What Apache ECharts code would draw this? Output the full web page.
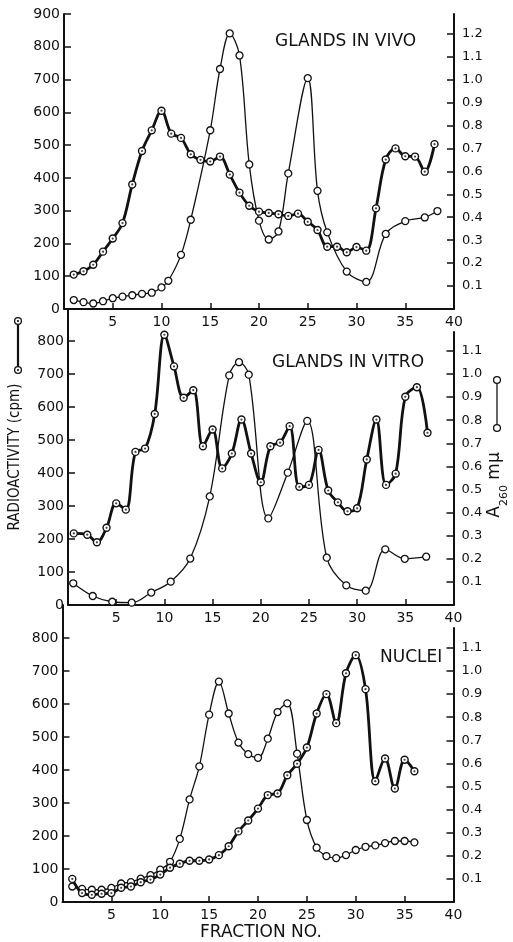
<!DOCTYPE html>
<html><head><meta charset="utf-8">
<script src="https://cdn.jsdelivr.net/npm/echarts@6/dist/echarts.min.js"></script>
<style>html,body{margin:0;padding:0;background:#fff}#c{width:513px;height:942px}</style>
</head><body><div id="c"></div>
<script>
// ---- data (fraction numbers, radioactivity cpm, A260) ----
const xTickInterval = 5;
const vivoRadFrac = [1,2,3,4,5,6,7,8,9,10,11,12,13,14,15,16,17,18,19,20,21,22,23,24,25,26,27,28,29,30,31,32,33,34,35,36,37,38];
const vivoRad = [105,115,135,175,215,262,380,482,545,605,535,522,472,455,450,465,410,355,315,297,293,289,284,291,266,241,190,190,173,189,178,307,456,490,466,465,419,503];
const vivoA260Frac = [1,2,3,4,5,6,7,8,9,10,10.7,12,13,15,16,17,18,19,20,21,22,23,25,26,27,29,31,33,35,37,38.3];
const vivoA260 = [0.039,0.030,0.024,0.034,0.047,0.054,0.060,0.066,0.071,0.094,0.123,0.236,0.389,0.779,1.046,1.201,1.105,0.630,0.385,0.303,0.338,0.591,1.006,0.515,0.334,0.163,0.118,0.327,0.383,0.399,0.427];

const vitroRadFrac = [0.6,2,3,4,5,6,7,8,9,10,11,12,13,14,15,16,17,18,19,20,21,22,23,24,25,26,27,28,29,30,31,32,33,34,35,36.2,37.3];
const vitroRad = [217,213,190,234,308,289,464,474,579,819,723,628,651,481,532,414,459,562,459,372,481,492,542,358,364,470,347,311,284,293,441,562,364,398,631,660,522];
const vitroA260Frac = [1,3,5,7,9,11,13,15,17,18,19,21,23,25,27,29,31,33,35,37.2];
const vitroA260 = [0.094,0.039,0.014,0.010,0.054,0.101,0.201,0.470,0.994,1.051,0.997,0.375,0.573,0.797,0.205,0.085,0.062,0.241,0.200,0.209];

const nucRadFrac = [1,2,3,4,5,6,7,8,9,10,11,12,13,14,15,16,17,18,19,20,21,22,23,24,25,26,27,28,29,30,31,32,33,34,35,36];
const nucRad = [70,27,22,25,27,43,47,60,68,83,104,116,125,125,129,142,169,214,247,283,324,329,384,419,468,571,630,542,693,748,645,366,435,344,431,396];
const nucA260Frac = [1,2,3,4,5,6,7,8,9,10,11,12,13,14,15,16,17,18,19,20,21,22,23,24,25,26,27,28,29,30,31,32,33,34,35,36];
const nucA260 = [0.067,0.057,0.053,0.053,0.061,0.080,0.086,0.101,0.116,0.140,0.174,0.273,0.444,0.587,0.811,0.954,0.816,0.690,0.640,0.624,0.707,0.822,0.860,0.642,0.355,0.235,0.199,0.190,0.203,0.225,0.239,0.245,0.255,0.264,0.264,0.258];

const panelTitles = ['GLANDS IN VIVO','GLANDS IN VITRO','NUCLEI'];

function pairs(xs, ys){ return xs.map((x,i)=>[x, ys[i]]); }

const INK = '#111';
const FONT = '"DejaVu Sans", sans-serif';
const SYM = 7;

const panels = [
  {gl:{left:64,  width:390, top:14,  height:295}, gr:{left:64,  width:390, top:14,  height:295}, lmax:900, rmax:1.2857, showMax:true,
   rad:pairs(vivoRadFrac, vivoRad), a:pairs(vivoA260Frac, vivoA260)},
  {gl:{left:63.5,width:390, top:309, height:296}, gr:{left:63.5,width:390, top:332, height:273}, lmax:897, rmax:1.1818, showMax:false,
   rad:pairs(vitroRadFrac, vitroRad), a:pairs(vitroA260Frac, vitroA260)},
  {gl:{left:62.5,width:391, top:605, height:297}, gr:{left:62.5,width:391, top:628, height:274}, lmax:900, rmax:1.186, showMax:false,
   rad:pairs(nucRadFrac, nucRad), a:pairs(nucA260Frac, nucA260)}
];

const grid=[], xAxis=[], yAxis=[], series=[];
panels.forEach((p, i) => {
  const gL = grid.length; grid.push(p.gl);
  const gR = grid.length; grid.push(p.gr);
  const xL = xAxis.length;
  xAxis.push({gridIndex:gL, type:'value', min:0, max:40, interval:xTickInterval,
    axisLine:{lineStyle:{color:INK, width:2}},
    axisTick:{inside:true, length:6, lineStyle:{color:INK, width:1.5}},
    axisLabel:{showMinLabel:false, color:INK, fontSize:14, fontFamily:FONT, margin:6},
    splitLine:{show:false}});
  const xR = xAxis.length;
  xAxis.push({gridIndex:gR, type:'value', min:0, max:40, interval:xTickInterval, show:false});
  const yL = yAxis.length;
  const yOpt = {gridIndex:gL, type:'value', position:'left', min:0, max:p.lmax, interval:100,
    axisLine:{show:true, onZero:false, lineStyle:{color:INK, width:2}},
    axisTick:{show:true, inside:true, length:7, lineStyle:{color:INK, width:1.5}},
    axisLabel:{color:INK, fontSize:14, fontFamily:FONT, margin:4, showMaxLabel:p.showMax},
    splitLine:{show:false}};
  if (i === 1) {
    yOpt.name = 'RADIOACTIVITY (cpm)';
    yOpt.nameLocation = 'middle';
    yOpt.nameRotate = 90;
    yOpt.nameGap = 45;
    yOpt.nameTextStyle = {color:INK, fontSize:15, fontFamily:'"DejaVu Sans Condensed", "DejaVu Sans", sans-serif'};
  }
  yAxis.push(yOpt);
  const yR = yAxis.length;
  yAxis.push({gridIndex:gR, type:'value', position:'right', min:0, max:p.rmax, interval:0.1,
    axisLine:{show:true, onZero:false, lineStyle:{color:INK, width:2}},
    axisTick:{show:true, inside:true, length:7, lineStyle:{color:INK, width:1.5}},
    axisLabel:{color:INK, fontSize:13, fontFamily:FONT, margin:8, showMinLabel:false, showMaxLabel:false,
      formatter:v => v.toFixed(1)},
    splitLine:{show:false}});

  series.push({type:'line', name:'A260 '+panelTitles[i], xAxisIndex:xR, yAxisIndex:yR, data:p.a, smooth:0.35,
    lineStyle:{color:INK, width:1.3}, symbol:'circle', symbolSize:SYM,
    itemStyle:{color:'#fff', borderColor:INK, borderWidth:1.3}, z:2});
  series.push({type:'line', name:'cpm '+panelTitles[i], xAxisIndex:xL, yAxisIndex:yL, data:p.rad, smooth:0.35,
    lineStyle:{color:INK, width:2.8}, symbol:'circle', symbolSize:SYM,
    itemStyle:{color:'#fff', borderColor:INK, borderWidth:1.4}, z:3});
  series.push({type:'scatter', xAxisIndex:xL, yAxisIndex:yL, data:p.rad, symbolSize:2.2,
    itemStyle:{color:INK}, z:4, silent:true});
});

const titleStyle = {fontSize:17, fontFamily:FONT, fill:INK, align:'left', verticalAlign:'middle'};
const graphic = [
  {type:'text', x:275, y:42, style:Object.assign({text:panelTitles[0]}, titleStyle)},
  {type:'text', x:272, y:363, style:Object.assign({text:panelTitles[1]}, titleStyle)},
  {type:'text', x:380, y:658, style:Object.assign({text:panelTitles[2]}, titleStyle)},
  {type:'text', x:261, y:933, style:{text:'FRACTION NO.', fontSize:17, fontFamily:FONT, fill:INK, align:'center', verticalAlign:'middle'}},
  {type:'line', shape:{x1:18, y1:321, x2:18, y2:370}, style:{stroke:INK, lineWidth:2.2}},
  {type:'circle', shape:{cx:18, cy:321, r:3.4}, style:{fill:'#fff', stroke:INK, lineWidth:1.3}},
  {type:'circle', shape:{cx:18, cy:370, r:3.4}, style:{fill:'#fff', stroke:INK, lineWidth:1.3}},
  {type:'circle', shape:{cx:18, cy:321, r:1.1}, style:{fill:INK}},
  {type:'circle', shape:{cx:18, cy:370, r:1.1}, style:{fill:INK}},
  {type:'line', shape:{x1:497, y1:380, x2:497, y2:428}, style:{stroke:INK, lineWidth:1.3}},
  {type:'circle', shape:{cx:497, cy:380, r:3.4}, style:{fill:'#fff', stroke:INK, lineWidth:1.3}},
  {type:'circle', shape:{cx:497, cy:428, r:3.4}, style:{fill:'#fff', stroke:INK, lineWidth:1.3}},
  {type:'text', x:498, y:485, rotation:Math.PI/2,
    style:{text:'{a|A}{s|260}{a| mμ}', align:'center', verticalAlign:'middle', fill:INK,
      rich:{a:{fontSize:17, fontFamily:FONT, fill:INK, verticalAlign:'top', lineHeight:24},
            s:{fontSize:11, fontFamily:FONT, fill:INK, verticalAlign:'bottom', lineHeight:24}}}}
];

const chart = echarts.init(document.getElementById('c'), null, {renderer:'canvas'});
chart.setOption({animation:false, backgroundColor:'#fff', grid, xAxis, yAxis, series, graphic});
</script>
</body></html>
